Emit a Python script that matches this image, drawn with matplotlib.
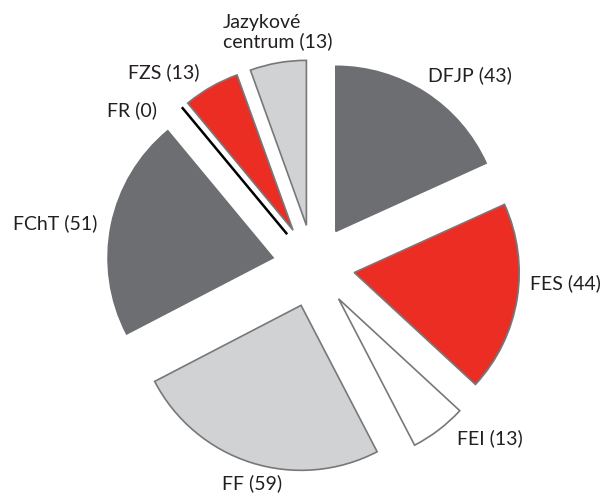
import numpy as np
import matplotlib
matplotlib.use("Agg")
import matplotlib.pyplot as plt

categories = ["DFJP", "FES", "FEI", "FF", "FChT", "FR", "FZS", "Jazykové\ncentrum"]
values = [43, 44, 13, 59, 51, 0, 13, 13]
colors = ["#6d6e72", "#ec2d24", "#ffffff", "#d1d2d4", "#6d6e72", "#000000", "#ec2d24", "#d1d2d4"]
edge_colors = ["#6d6e72", "#77787b", "#77787b", "#77787b", "#6d6e72", "#000000", "#77787b", "#77787b"]

# label placement (layout): positions in data units relative to pie centre
label_pos = [(0.949, 1.158), (1.524, -0.103), (1.070, -1.042), (-0.373, -1.315),
             (-1.567, 0.261), (-1.100, 0.945), (-0.906, 1.176), (-0.548, 1.418)]
label_ha = ["center", "center", "center", "center", "center", "center", "center", "left"]

W, H = 604, 494
R_PX = 165.0
CX, CY = 313.5, 266.0
fig = plt.figure(figsize=(W / 100, H / 100), dpi=100)
ax = fig.add_axes([0, 0, 1, 1])
ax.set_aspect("equal")
ax.axis("off")

explode = [0.25] * len(values)
wedges, _ = ax.pie(values, colors=colors, startangle=90, counterclock=False,
                   explode=explode, radius=1.0, normalize=True,
                   wedgeprops=dict(linewidth=1.2))
for w, ec in zip(wedges, edge_colors):
    w.set_edgecolor(ec)
wedges[5].set_linewidth(1.8)
ax.set_xlim(-CX / R_PX, (W - CX) / R_PX)
ax.set_ylim(-(H - CY) / R_PX, CY / R_PX)

for cat, v, (x, y), ha in zip(categories, values, label_pos, label_ha):
    ax.text(x, y, f"{cat} ({v})", ha=ha, va="center", fontsize=14,
            family="Lato", color="#231f20", linespacing=1.05)

fig.savefig("out.png", dpi=100)
